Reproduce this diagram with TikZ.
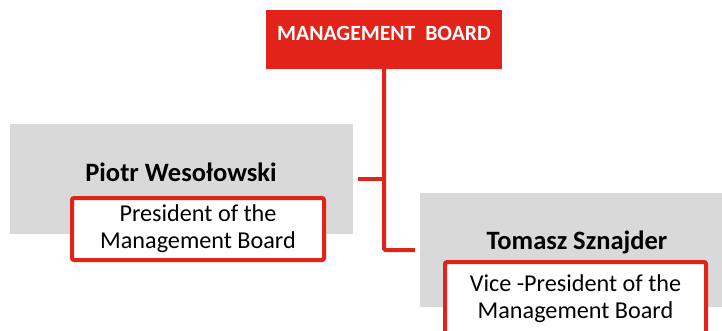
\documentclass[tikz,border=0pt]{standalone}
\usepackage{fontspec}
\setmainfont{Carlito}
\usetikzlibrary{positioning}
\definecolor{boardred}{HTML}{E2231A}
\definecolor{panelgrey}{HTML}{D9D9D9}

\begin{document}
\begin{tikzpicture}[x=1pt, y=-1pt, inner sep=0pt]
\tikzstyle{boardbox}=[fill=boardred, minimum width=236pt, minimum height=59pt]
\tikzstyle{boardtext}=[text=white, font=\fontsize{21.7}{25}\selectfont\bfseries]
\tikzstyle{panel}=[fill=panelgrey, minimum width=343pt]
\tikzstyle{person}=[font=\fontsize{26.5}{30}\selectfont\bfseries]
\tikzstyle{rolebox}=[draw=boardred, line width=4pt, fill=white, rounded corners=2pt, align=center, font=\fontsize{24.2}{27}\selectfont]
\tikzstyle{link}=[draw=boardred, line width=4pt, rounded corners=1.5pt, shorten >=5pt]
\clip (0,0) rectangle (722,331);
\useasboundingbox (0,0) rectangle (722,331);

% top box
\node[boardbox]  (board)     at (384,39.5) {};
\node[boardtext] (boardname) at (384,33)   {MANAGEMENT\ \ BOARD};

% president
\node[panel, minimum height=110pt] (piotr)     at (181.5,179) {};
\node[person]                      (piotrname) at (181,172)   {Piotr Wesołowski};
\node[rolebox, minimum width=252pt, minimum height=62pt] (piotrrole) at (198,229)
    {President of the\\Management Board};

% vice-president
\node[panel, minimum height=114pt] (tomasz)     at (591.5,250) {};
\node[person]                      (tomaszname) at (577,242)   {Tomasz Sznajder};
\node[rolebox, minimum width=261pt, minimum height=73pt] (tomaszrole) at (575.5,298.5)
    {Vice -President of the\\Management Board};

% connectors
\path[link] (board.south) |- (tomasz.west);
\path[link] (board.south |- piotr.east) -- (piotr.east);
\end{tikzpicture}
\end{document}
